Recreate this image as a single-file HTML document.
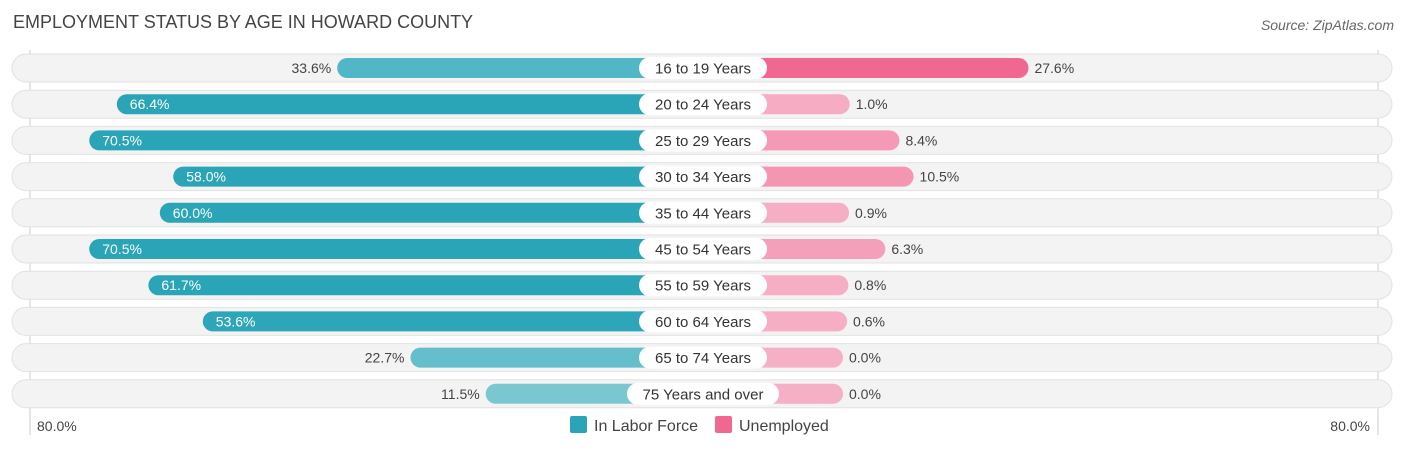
<!DOCTYPE html>
<html><head><meta charset="utf-8"><style>
body{margin:0;background:#fff;font-family:"Liberation Sans",sans-serif;}
svg text{font-family:"Liberation Sans",sans-serif;}
</style></head><body>
<svg id="chart" width="1406" height="450" xmlns="http://www.w3.org/2000/svg">
<text x="13" y="28" font-size="18" fill="#444">EMPLOYMENT STATUS BY AGE IN HOWARD COUNTY</text>
<text x="1394" y="30" font-size="14" fill="#666" text-anchor="end" font-style="italic">Source: ZipAtlas.com</text>
<line x1="30" y1="50" x2="30" y2="435" stroke="#ccc"/>
<line x1="1378" y1="50" x2="1378" y2="435" stroke="#ccc"/>
<g id="rows"></g>
<text x="37" y="431" font-size="14" fill="#444">80.0%</text>
<text x="1370" y="431" font-size="14" fill="#444" text-anchor="end">80.0%</text>
<g>
<rect x="570" y="416" width="17" height="17" rx="2" fill="#2aa5b8"/>
<text x="594" y="431" font-size="16" fill="#444">In Labor Force</text>
<rect x="715" y="416" width="17" height="17" rx="2" fill="#f06892"/>
<text x="739" y="431" font-size="16" fill="#444">Unemployed</text>
</g>
</svg>
<script>
const categories=["16 to 19 Years","20 to 24 Years","25 to 29 Years","30 to 34 Years","35 to 44 Years","45 to 54 Years","55 to 59 Years","60 to 64 Years","65 to 74 Years","75 Years and over"];
const laborForce=[33.6,66.4,70.5,58.0,60.0,70.5,61.7,53.6,22.7,11.5];
const unemployed=[27.6,1.0,8.4,10.5,0.9,6.3,0.8,0.6,0.0,0.0];
const NS="http://www.w3.org/2000/svg";
const cx=703, off=140, k=6.72;
function len(v){return off+v*k;}
function rowY(i){return 68+i*36.2;}
function mix(a,b,t){const p=x=>[parseInt(x.slice(1,3),16),parseInt(x.slice(3,5),16),parseInt(x.slice(5,7),16)];const A=p(a),B=p(b);return "rgb("+A.map((c,j)=>Math.round(c+(B[j]-c)*t)).join(",")+")";}
const g=document.getElementById("rows");
function mk(tag,attrs,parent){const e=document.createElementNS(NS,tag);for(const a in attrs)e.setAttribute(a,attrs[a]);parent.appendChild(e);return e;}
categories.forEach((c,i)=>{
  const y=rowY(i);
  const bg=mk("rect",{x:12,y:y-14,width:1380,height:28,rx:14,fill:"#f3f3f3",stroke:"#e2e2e2"},g);
  
  
  const lv=laborForce[i], uv=unemployed[i];
  const lw=len(lv);
  const lb=mk("rect",{x:cx-lw,y:y-10,width:lw,height:20,rx:10,fill:mix("#8fd0d9","#2aa5b8",Math.min(1,lv/55))},g);
  
  
  const uw=len(uv);
  const ub=mk("rect",{x:cx,y:y-10,width:uw,height:20,rx:10,fill:mix("#f6b0c6","#f06892",Math.min(1,uv/27.6))},g);
  
  
  const pill=mk("rect",{x:cx-64+(c.length>14?-12:0),y:y-11,width:128+(c.length>14?24:0),height:22,rx:11,fill:"#fff"},g);
  
  
  const ct=mk("text",{x:cx,y:y+5.5,"font-size":15,fill:"#333","text-anchor":"middle"},g);
  ct.textContent=c;
  
  
  const inside=lv>45;
  const lt=mk("text",{x:inside?cx-lw+13:cx-lw-6,y:y+5,"font-size":14,fill:inside?"#fff":"#444","text-anchor":inside?"start":"end"},g);
  lt.textContent=lv.toFixed(1)+"%";
  
  
  const ut=mk("text",{x:cx+uw+6,y:y+5,"font-size":14,fill:"#444"},g);
  ut.textContent=uv.toFixed(1)+"%";
  
  
});
</script>
</body></html>
